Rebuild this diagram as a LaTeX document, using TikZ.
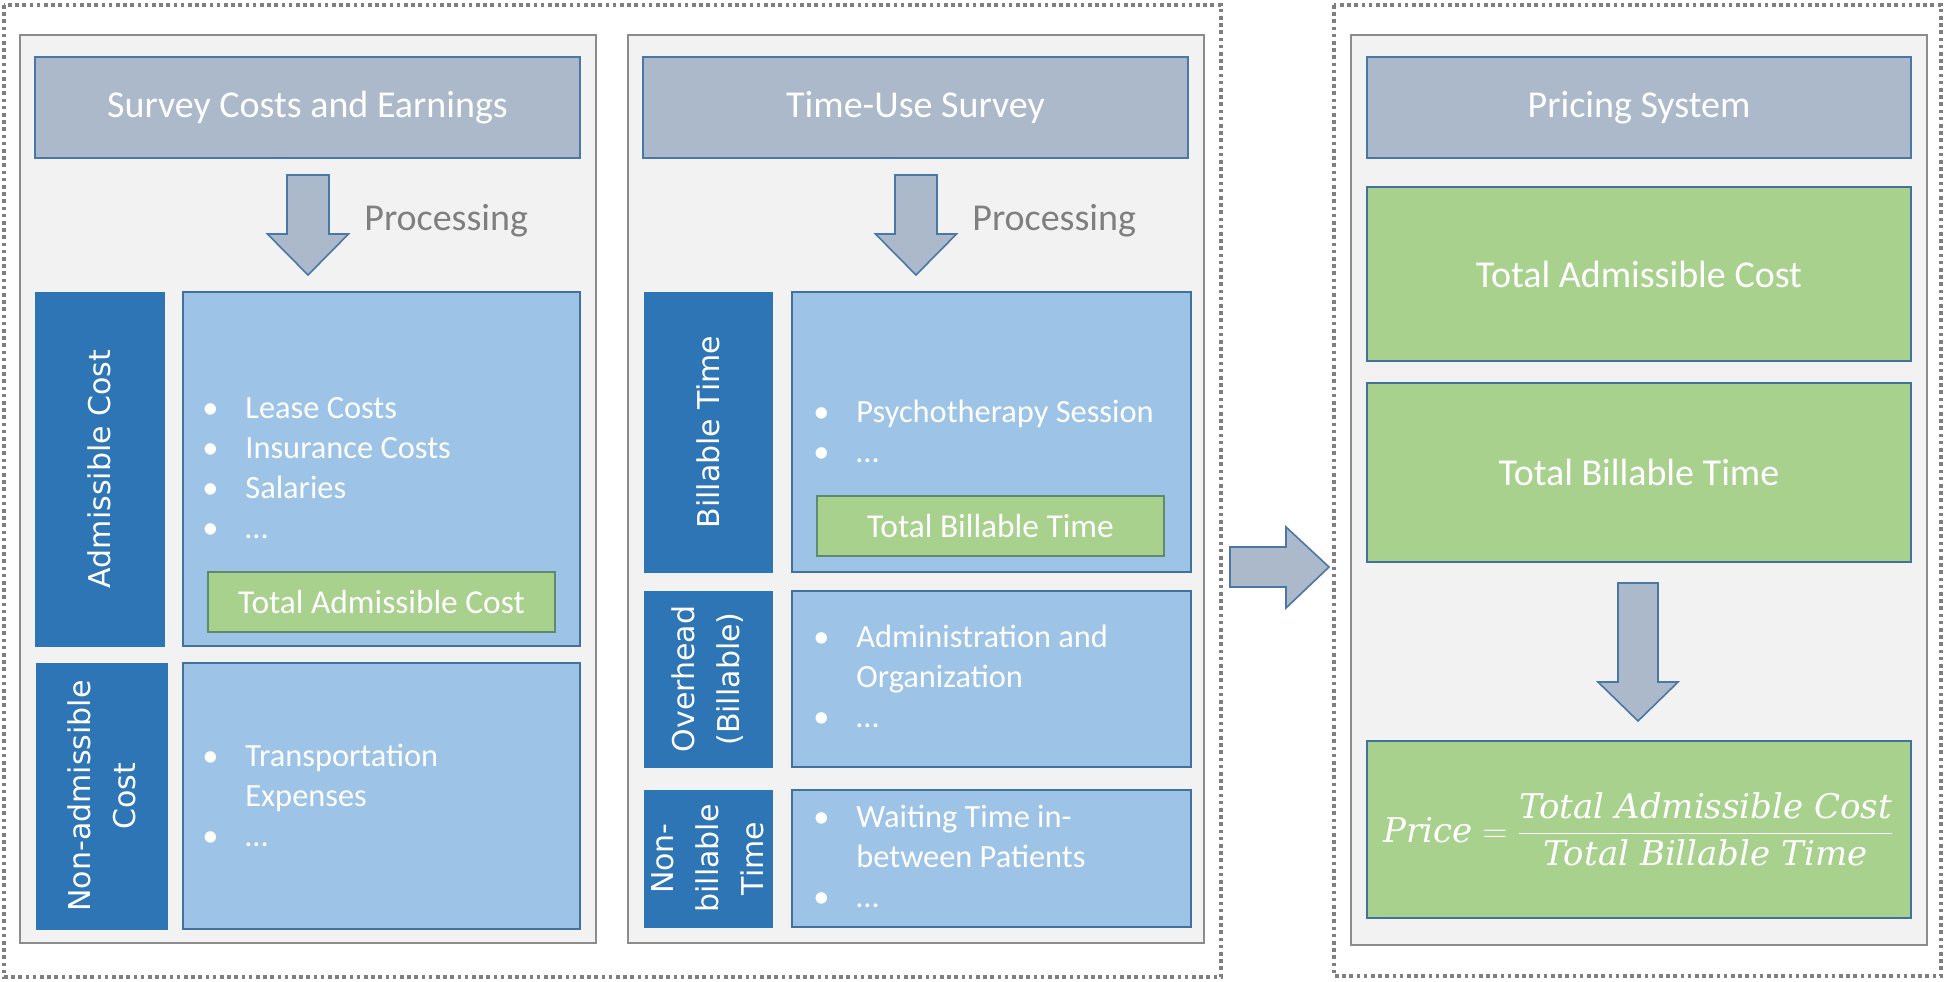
\documentclass[tikz,border=0pt]{standalone}
\usepackage{amsmath}
\usepackage{fontspec}
\setmainfont{Carlito}
\newfontfamily\vfont{DejaVu Sans}
\newfontfamily\mfont{DejaVu Serif}
\usetikzlibrary{calc}
\definecolor{hdrfill}{HTML}{ACB9CA}
\definecolor{hdrline}{HTML}{4A76A8}
\definecolor{darkblue}{HTML}{2E75B6}
\definecolor{lightblue}{HTML}{9DC3E6}
\definecolor{boxline}{HTML}{41719C}
\definecolor{greenfill}{HTML}{A9D18E}
\definecolor{greenline}{HTML}{5E8A6E}
\definecolor{panelfill}{HTML}{F2F2F2}
\definecolor{panelline}{HTML}{8C8C8C}
\definecolor{dotline}{HTML}{7F7F7F}
\definecolor{proctext}{HTML}{7F7F7F}
\newcommand{\bx}[7]{%
  \pgfmathsetmacro\bxw{(#5-#3)*0.5}%
  \pgfmathsetmacro\bxh{(#6-#4)*0.5}%
  \node[#2, minimum width=\bxw pt, minimum height=\bxh pt, inner sep=0pt] (#1) at ({(#3+#5)/2},{(#4+#6)/2}) {#7};}
\newcommand{\darr}[7]{% name cx top headstart tip shafthalf headhalf
  \draw[blockarrow] ({#2-#6},#3) -- ({#2+#6},#3) -- ({#2+#6},#4) -- ({#2+#7},#4) -- (#2,#5) coordinate (#1) -- ({#2-#7},#4) -- ({#2-#6},#4) -- cycle;}
\newcommand{\itm}[1]{\makebox[21.5pt][l]{\textbullet}#1}
\newcommand{\cnt}[1]{\hspace*{21.5pt}#1}
\newcommand{\mt}[1]{\text{\mfont\itshape #1}}
\tikzset{
  x=0.5pt, y=-0.5pt,
  dotbox/.style={draw=dotline, line width=1.6pt, dash pattern=on 1.8pt off 1.8pt},
  panel/.style={draw=panelline, fill=panelfill, line width=1pt},
  header/.style={draw=hdrline, fill=hdrfill, line width=0.8pt, text=white, font=\fontsize{19}{23}\selectfont},
  catbox/.style={fill=darkblue, draw=darkblue, line width=0.5pt},
  listbox/.style={fill=lightblue, draw=boxline, line width=0.8pt},
  sumbox/.style={fill=greenfill, draw=greenline, line width=0.8pt, text=white, font=\fontsize{16.7}{20}\selectfont},
  resbox/.style={fill=greenfill, draw=boxline, line width=0.8pt, text=white, font=\fontsize{19}{23}\selectfont},
  vlabel/.style={rotate=90, align=center, text=white, inner sep=0pt, font=\vfont\fontsize{15}{22.5}\selectfont},
  listtext/.style={anchor=base west, align=left, text=white, inner sep=0pt, font=\fontsize{16.2}{20}\selectfont},
  proc/.style={anchor=west, text=proctext, inner sep=0pt, font=\fontsize{19}{23}\selectfont},
  blockarrow/.style={fill=hdrfill, draw=hdrline, line width=0.8pt, line join=miter},
}
\begin{document}
\begin{tikzpicture}
\useasboundingbox (0,0) rectangle (1946,981);
% outer dotted frames
\draw[dotbox] (4,5) rectangle (1221,977);
\draw[dotbox] (1334,5) rectangle (1941,976);
% panels
\bx{p1}{panel}{20}{35}{596}{943}{}
\bx{p2}{panel}{628}{35}{1204}{943}{}
\bx{p3}{panel}{1351}{35}{1927}{945}{}
% headers
\bx{h1}{header}{35}{57}{580}{158}{\raisebox{-2pt}{Survey Costs and Earnings}}
\bx{h2}{header}{643}{57}{1188}{158}{\raisebox{-2pt}{Time-Use Survey}}
\bx{h3}{header}{1367}{57}{1911}{158}{\raisebox{-2pt}{Pricing System}}
% processing arrows
\darr{a1}{308}{175}{234}{275}{21}{40.5}
\darr{a2}{916}{175}{234}{275}{21}{40.5}
\node[proc] (proc1) at (364,221) {Processing};
\node[proc] (proc2) at (972,221) {Processing};
% panel 1
\bx{ac}{catbox}{35}{292}{164}{646}{}
\bx{acl}{listbox}{183}{292}{580}{646}{}
\bx{tac1}{sumbox}{208}{572}{555}{632}{Total Admissible Cost}
\node[vlabel] (aclbl) at (ac.center) {Admissible Cost};
\node[listtext] (aclist) at (202,538) {\itm{Lease Costs}\\\itm{Insurance Costs}\\\itm{Salaries}\\\itm{…}};
\bx{nac}{catbox}{36}{663}{167}{929}{}
\bx{nacl}{listbox}{183}{663}{580}{929}{}
\node[vlabel] (naclbl) at (nac.center) {Non-admissible\\Cost};
\node[listtext] (naclist) at (202,846) {\itm{Transportation}\\\cnt{Expenses}\\\itm{…}};
% panel 2
\bx{bt}{catbox}{644}{292}{772}{572}{}
\bx{btl}{listbox}{792}{292}{1191}{572}{}
\bx{tbt1}{sumbox}{817}{496}{1164}{556}{Total Billable Time}
\node[vlabel] (btlbl) at (bt.center) {Billable Time};
\node[listtext] (btlist) at (813,462) {\itm{Psychotherapy Session}\\\itm{…}};
\bx{oh}{catbox}{644}{591}{772}{767}{}
\bx{ohl}{listbox}{792}{591}{1191}{767}{}
\node[vlabel] (ohlbl) at (oh.center) {Overhead\\(Billable)};
\node[listtext] (ohlist) at (813,727) {\itm{Administration and}\\\cnt{Organization}\\\itm{…}};
\bx{nb}{catbox}{644}{790}{772}{927}{}
\bx{nbl}{listbox}{792}{790}{1191}{927}{}
\node[vlabel] (nblbl) at (nb.center) {Non-\\billable\\Time};
\node[listtext] (nblist) at (813,907) {\itm{Waiting Time in-}\\\cnt{between Patients}\\\itm{…}};
% big arrow
\draw[blockarrow] (1230,547) -- (1286,547) -- (1286,527) -- (1329,567) -- (1286,608) -- (1286,587) -- (1230,587) -- cycle;
% panel 3
\bx{g1}{resbox}{1367}{187}{1911}{361}{Total Admissible Cost}
\bx{g2}{resbox}{1367}{383}{1911}{562}{Total Billable Time}
\darr{a3}{1638}{583}{682}{721}{20}{40}
\bx{g3}{resbox}{1367}{741}{1911}{918}{\fontsize{17}{21}\selectfont$\mt{Price}=\dfrac{\mt{Total Admissible Cost}}{\mt{Total Billable Time}}$}
\end{tikzpicture}
\end{document}
